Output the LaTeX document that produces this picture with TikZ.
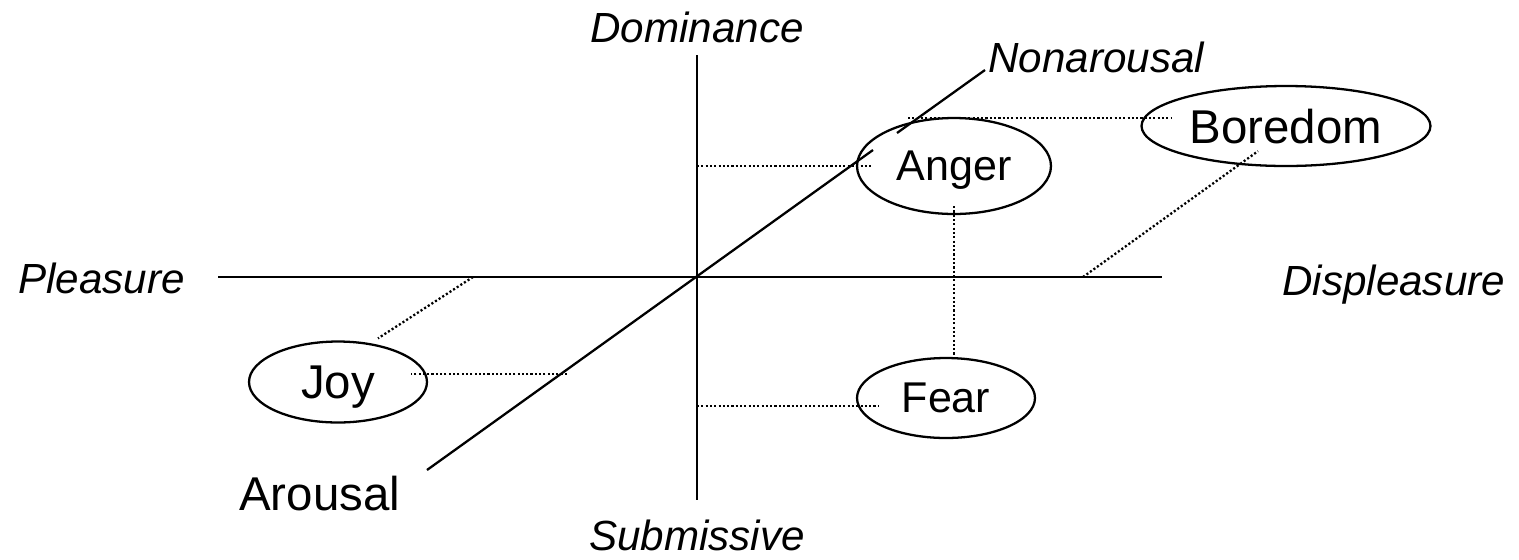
\documentclass[tikz,border=0pt]{standalone}
\usepackage{fontspec}
\setmainfont{Liberation Sans}
\usepackage{tikz}
\usetikzlibrary{positioning, calc, shapes.geometric}
\newcommand{\fLab}{\fontsize{24}{28}\selectfont}
\newcommand{\fMid}{\fontsize{24.5}{29}\selectfont}
\newcommand{\fBig}{\fontsize{27}{32}\selectfont}

\begin{document}
\begin{tikzpicture}[x=0.02cm, y=-0.02cm,
    axis/.style={line width=1.3pt},
    proj/.style={line width=1.3pt, dash pattern=on 1.2pt off 1.25pt},
    lab/.style={font=\fLab\itshape, inner sep=0pt},
    emo/.style={draw, ellipse, line width=1.3pt, inner sep=0pt, text depth=0pt}]
  \useasboundingbox (0,0) rectangle (1519,559);
  \node[lab, anchor=base] (dom) at (697,42) {Dominance};
  \node[lab, anchor=base] (sub) at (697,550) {Submissive};
  \node[lab, anchor=base west] (plea) at (18,293) {Pleasure};
  \node[lab, anchor=base west] (displ) at (1282,295) {Displeasure};
  \node[lab, anchor=base west] (nonar) at (988,72) {Nonarousal};
  \node[font=\fBig, inner sep=0pt, anchor=base west] (ar) at (239,510) {Arousal};
  \foreach \n/\t/\x/\y/\w/\h/\f in {joy/Joy/338/382/3.56/1.62/\fBig, anger/Anger/954/166/3.88/1.92/\fMid,
      fear/Fear/946/398/3.56/1.60/\fMid, boredom/Boredom/1286/126/5.78/1.60/\fBig}
    \node[emo, font=\f, minimum width=\w cm, minimum height=\h cm] (\n) at (\x,\y) {\t};
  \coordinate (hL) at (218,277);
  \coordinate (hR) at (1162,277);
  \coordinate (vT) at (697,55);
  \coordinate (vB) at (697,500);
  \coordinate (dLo) at (427,470);
  \coordinate (dHi) at (985,70);
  \coordinate (gapA) at (873,150);
  \coordinate (gapB) at (897,133);
  \draw[axis] (hL) -- (hR);
  \draw[axis] (vT) -- (vB);
  \draw[axis] (dLo) -- (gapA) (gapB) -- (dHi);
  \coordinate (joyH) at (473,277);
  \coordinate (joyD) at (567,374);
  \coordinate (angV) at (697,166);
  \coordinate (fearV) at (697,406);
  \coordinate (borD) at (908,118);
  \coordinate (borH) at (1083,277);
  \coordinate (joyN) at ($(joy.north)+(40,-2)$);
  \coordinate (joyE) at ($(joy.east)+(-17,-8)$);
  \coordinate (angW) at ($(anger.west)+(16,0)$);
  \coordinate (angS) at ($(anger.south)+(0,-9)$);
  \coordinate (fearW) at ($(fear.west)+(22,8)$);
  \coordinate (borW) at ($(boredom.west)+(31,-8)$);
  \coordinate (borS) at ($(boredom.south)+(-28,-16)$);
  \draw[proj] (joyH) -- (joyN);
  \draw[proj] (joyD) -- (joyE);
  \draw[proj] (angV) -- (angW);
  \draw[proj] (angS) -- (angS |- fear.north);
  \draw[proj] (fearV) -- (fearW);
  \draw[proj] (borD) -- (borW);
  \draw[proj] (borH) -- (borS);
\end{tikzpicture}
\end{document}
